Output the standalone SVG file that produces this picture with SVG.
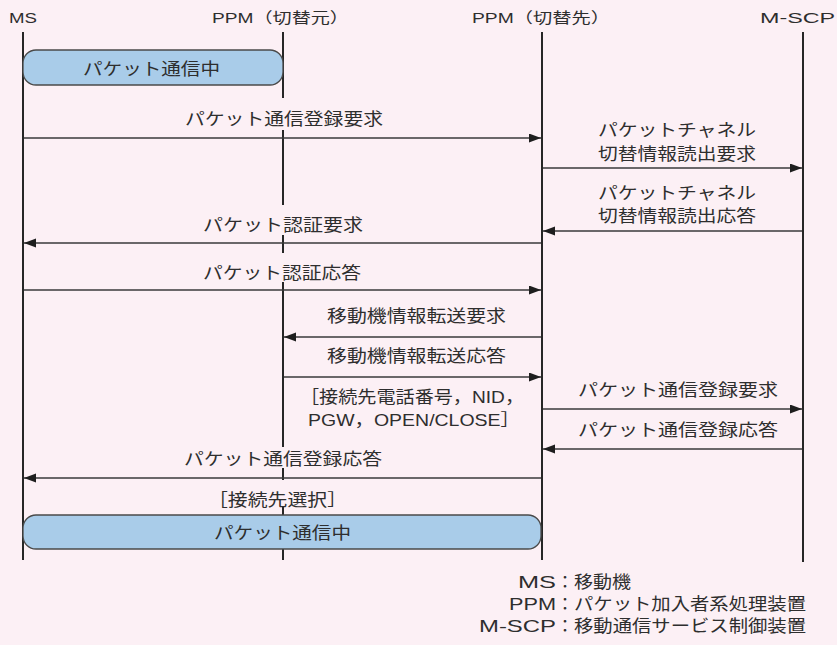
<svg xmlns="http://www.w3.org/2000/svg" width="837" height="645" viewBox="0 0 837 645">
<defs>
<style>
text{font-family:"Liberation Sans","Noto Sans CJK JP",sans-serif;fill:#2e2e2e}
.hd{font-size:15px}
.lb{font-size:17px}
.life{stroke:#262626;stroke-width:2;fill:none}
.msg{stroke:#3a3a3a;stroke-width:1.3;fill:none;marker-end:url(#ah)}
.box{fill:#a9cce9;stroke:#4a4a4a;stroke-width:1.3}
</style>
<marker id="ah" markerUnits="userSpaceOnUse" markerWidth="13" markerHeight="10" refX="12" refY="4.5" orient="auto">
<path d="M0,0 L12,4.5 L0,9 z" fill="#1e1e1e"/>
</marker>
</defs>
<rect width="837" height="645" fill="#fcf0f5"/>

<g id="ms">
<text class="hd" x="9" y="23" textLength="28" lengthAdjust="spacingAndGlyphs">MS</text>
<path class="life" d="M23,32 V560"/>
</g>
<g id="ppm-src">
<text class="hd" x="212" y="23" textLength="137" lengthAdjust="spacingAndGlyphs">PPM（切替元）</text>
<path class="life" d="M283,32 V98 M283,130 V205 M283,235 V253 M283,282 V447 M283,468 V480 M283,507 V560"/>
</g>
<g id="ppm-dst">
<text class="hd" x="472" y="23" textLength="138" lengthAdjust="spacingAndGlyphs">PPM（切替先）</text>
<path class="life" d="M542,32 V560"/>
</g>
<g id="m-scp">
<text class="hd" x="760" y="23" textLength="75" lengthAdjust="spacingAndGlyphs">M-SCP</text>
<path class="life" d="M803,32 V562"/>
</g>

<g id="state-top">
<rect class="box" x="23" y="50" width="260" height="35" rx="13"/>
<text class="lb" x="83" y="75" textLength="137" lengthAdjust="spacingAndGlyphs">パケット通信中</text>
</g>

<g id="connectors">
<path class="msg" d="M24,138 H541"/>
<path class="msg" d="M543,168 H802"/>
<path class="msg" d="M802,231 H543"/>
<path class="msg" d="M541,243 H24"/>
<path class="msg" d="M24,290 H541"/>
<path class="msg" d="M541,337 H284"/>
<path class="msg" d="M284,377 H541"/>
<path class="msg" d="M543,409 H802"/>
<path class="msg" d="M802,449 H543"/>
<path class="msg" d="M541,478 H24"/>
</g>

<g id="labels" class="lb">
<text class="lb" x="185" y="125" textLength="198" lengthAdjust="spacingAndGlyphs">パケット通信登録要求</text>
<text class="lb" x="598" y="136" textLength="158" lengthAdjust="spacingAndGlyphs">パケットチャネル</text>
<text class="lb" x="598" y="160" textLength="158" lengthAdjust="spacingAndGlyphs">切替情報読出要求</text>
<text class="lb" x="598" y="199" textLength="158" lengthAdjust="spacingAndGlyphs">パケットチャネル</text>
<text class="lb" x="598" y="222" textLength="158" lengthAdjust="spacingAndGlyphs">切替情報読出応答</text>
<text class="lb" x="203" y="231" textLength="160" lengthAdjust="spacingAndGlyphs">パケット認証要求</text>
<text class="lb" x="203" y="279" textLength="158" lengthAdjust="spacingAndGlyphs">パケット認証応答</text>
<text class="lb" x="327" y="322" textLength="179" lengthAdjust="spacingAndGlyphs">移動機情報転送要求</text>
<text class="lb" x="327" y="362" textLength="179" lengthAdjust="spacingAndGlyphs">移動機情報転送応答</text>
<text class="lb" x="300" y="403" textLength="224" lengthAdjust="spacingAndGlyphs">［接続先電話番号，NID，</text>
<text class="lb" x="308" y="426" textLength="212" lengthAdjust="spacingAndGlyphs">PGW，OPEN/CLOSE］</text>
<text class="lb" x="578" y="396" textLength="200" lengthAdjust="spacingAndGlyphs">パケット通信登録要求</text>
<text class="lb" x="578" y="436" textLength="200" lengthAdjust="spacingAndGlyphs">パケット通信登録応答</text>
<text class="lb" x="184" y="465" textLength="198" lengthAdjust="spacingAndGlyphs">パケット通信登録応答</text>
<text class="lb" x="208" y="506" textLength="139" lengthAdjust="spacingAndGlyphs">［接続先選択］</text>
</g>

<g id="state-bottom">
<rect class="box" x="23" y="515" width="518" height="34" rx="13"/>
<text class="lb" x="214" y="539" textLength="137" lengthAdjust="spacingAndGlyphs">パケット通信中</text>
</g>

<g id="legend">
<text class="lb" y="588"><tspan x="518" textLength="38" lengthAdjust="spacingAndGlyphs">MS</tspan><tspan x="556.5">：</tspan><tspan x="574" textLength="57" lengthAdjust="spacingAndGlyphs">移動機</tspan></text>
<text class="lb" y="610"><tspan x="509" textLength="47" lengthAdjust="spacingAndGlyphs">PPM</tspan><tspan x="556.5">：</tspan><tspan x="574" textLength="232" lengthAdjust="spacingAndGlyphs">パケット加入者系処理装置</tspan></text>
<text class="lb" y="632"><tspan x="479" textLength="77" lengthAdjust="spacingAndGlyphs">M-SCP</tspan><tspan x="556.5">：</tspan><tspan x="574" textLength="232" lengthAdjust="spacingAndGlyphs">移動通信サービス制御装置</tspan></text>
</g>
</svg>
